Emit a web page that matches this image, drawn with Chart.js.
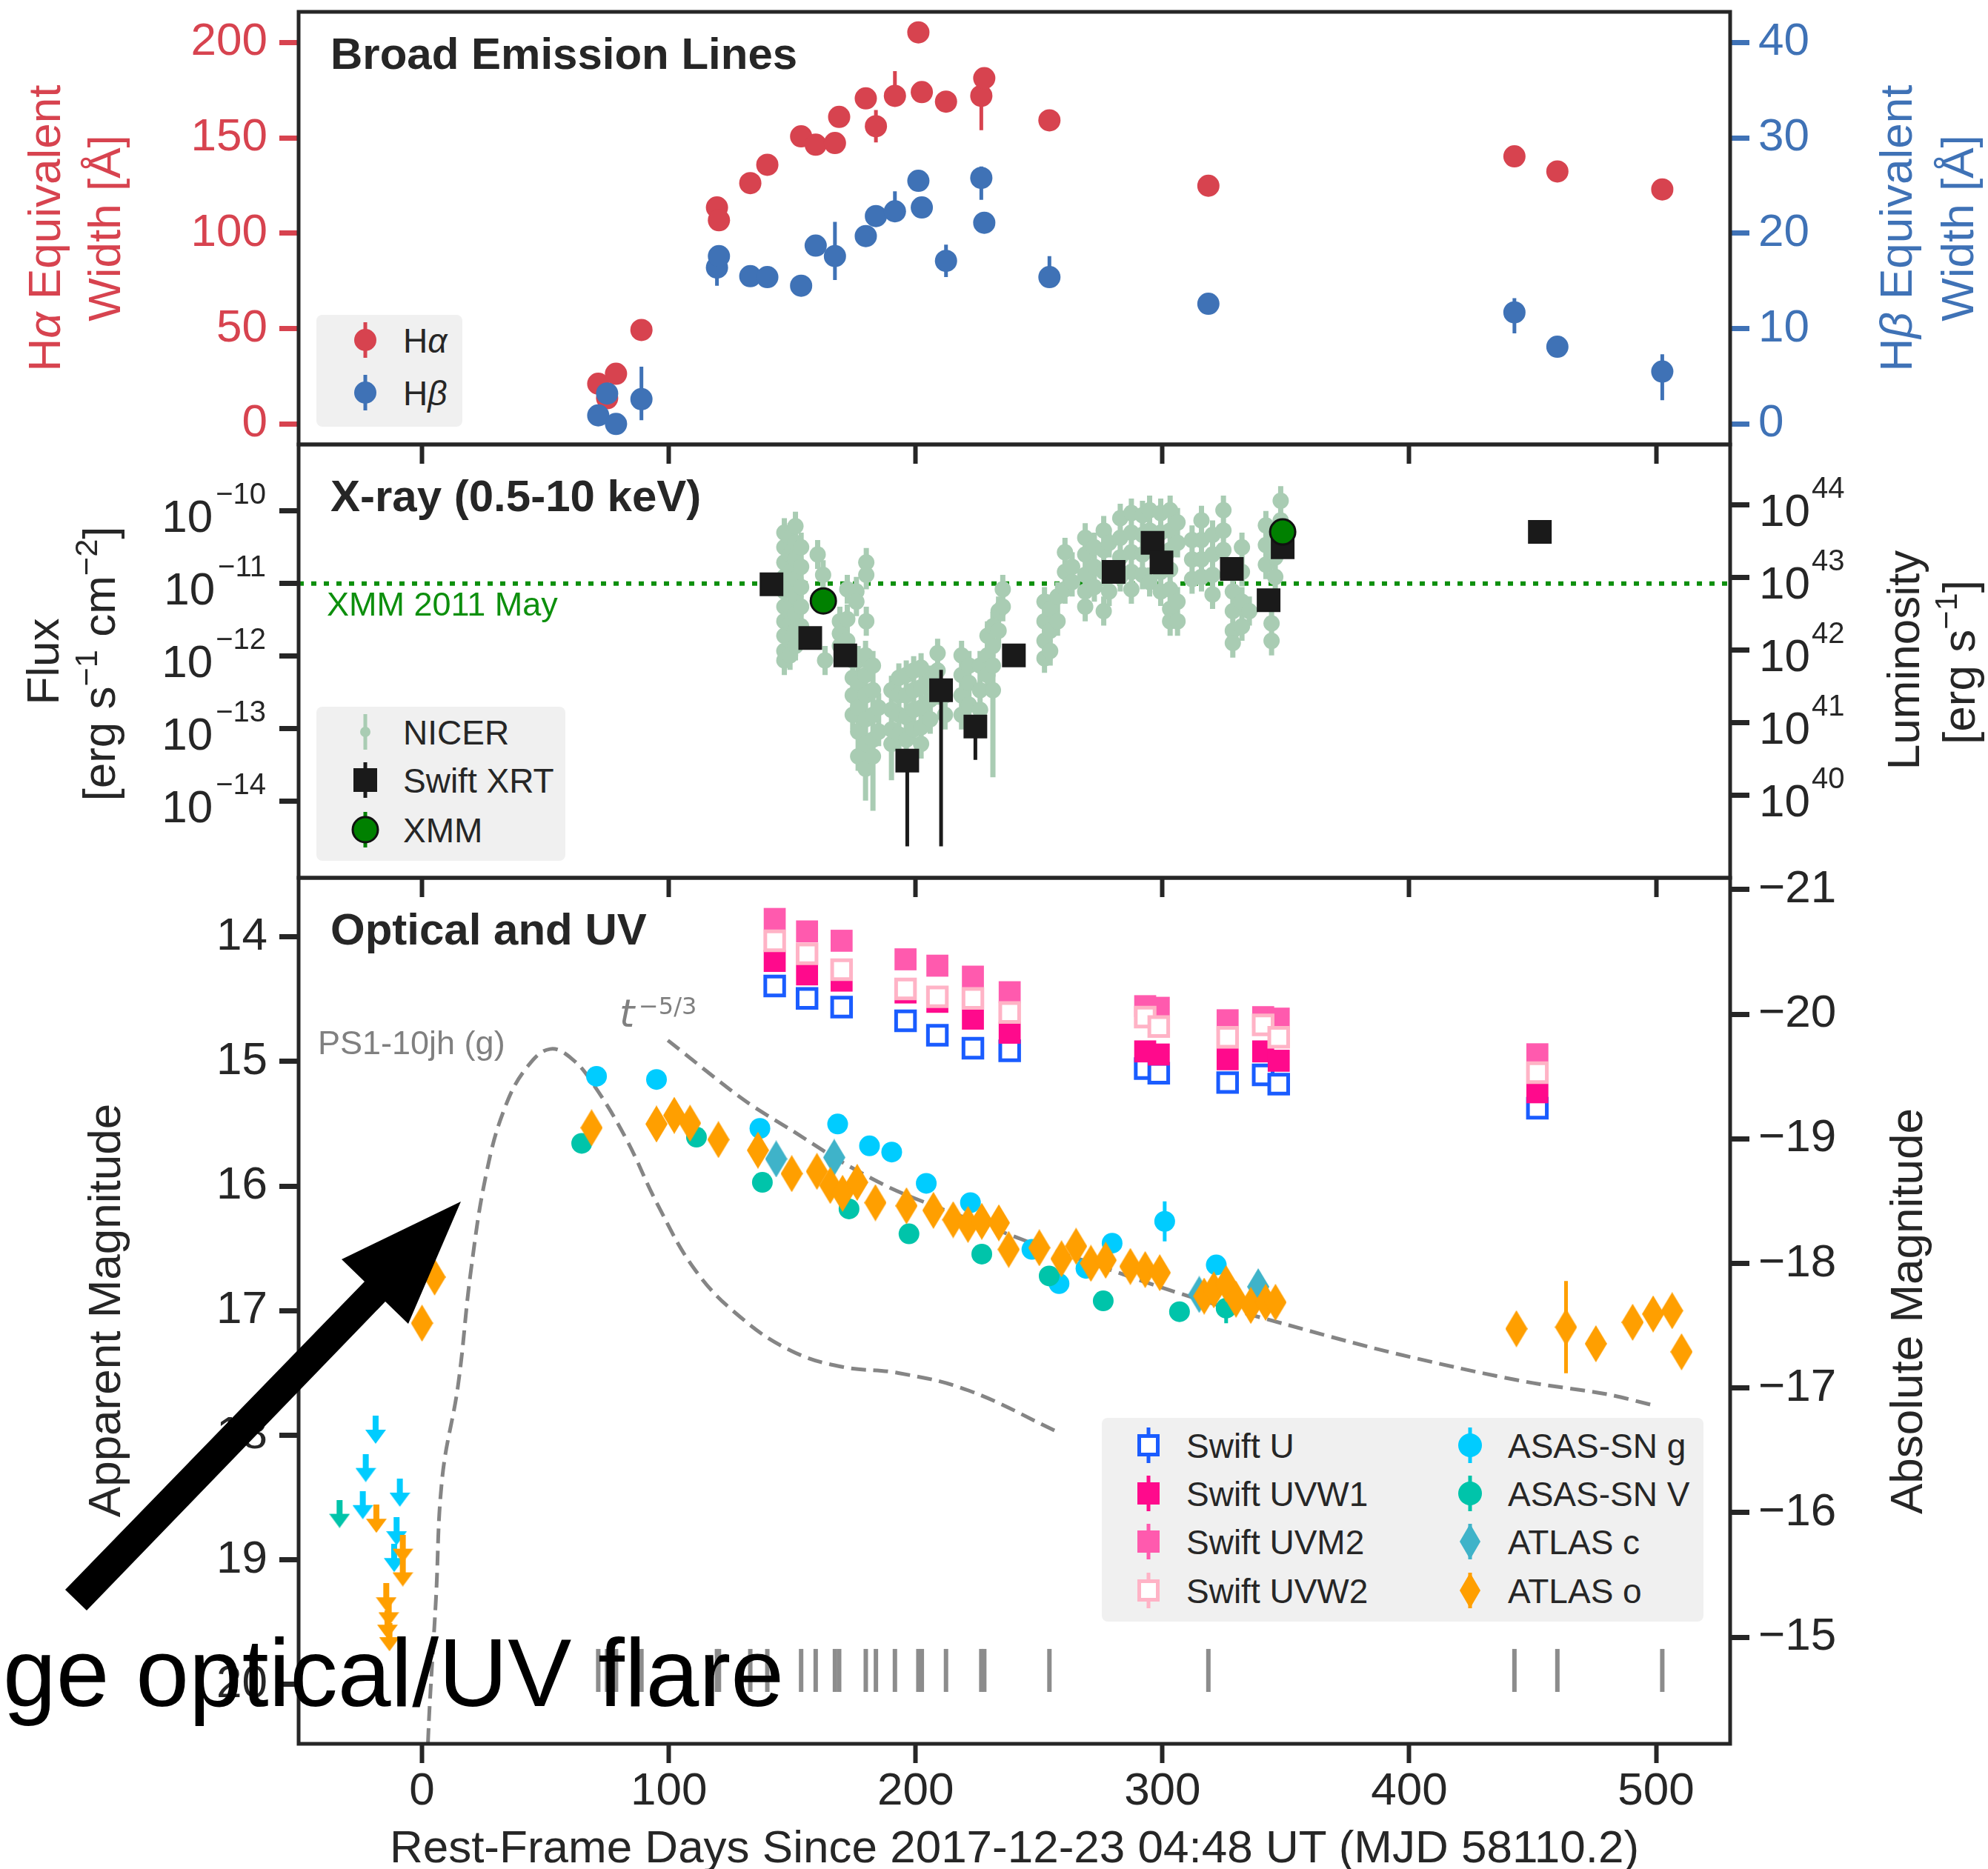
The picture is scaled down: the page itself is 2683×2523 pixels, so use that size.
<!DOCTYPE html>
<html>
<head>
<meta charset="utf-8">
<title>Broad lines, X-ray and optical/UV light curves</title>
<script src="https://cdn.jsdelivr.net/npm/chart.js@4.4.1/dist/chart.umd.min.js"></script>
<style>
  html, body { margin: 0; padding: 0; background: #fff; }
  #fig { position: relative; width: 2683px; height: 2523px; overflow: hidden; background: #fff;
         font-family: "Liberation Sans", Arial, Helvetica, sans-serif; color: #262626; }
  #fig canvas { position: absolute; left: 0; top: 0; }
  .t { position: absolute; white-space: nowrap; }
  .legend { position: absolute; background: #f0f0f0; border-radius: 8px; }
  .t sup { font-size: 70%; vertical-align: 0; position: relative; top: -0.55em; }
</style>
</head>
<body>
<div id="fig">
  <canvas id="cEW" width="2683" height="2523"></canvas>
  <canvas id="cX" width="2683" height="2523"></canvas>
  <canvas id="cOpt" width="2683" height="2523"></canvas>
</div>
<script>
// ---------- ticks ----------
const dayTicks = [0, 100, 200, 300, 400, 500];
const haTicks = [0, 50, 100, 150, 200];
const hbTicks = [0, 10, 20, 30, 40];
const fluxExp = [-14, -13, -12, -11, -10];
const lumExp = [40, 41, 42, 43, 44];
const appTicks = [14, 15, 16, 17, 18, 19, 20];
const absTicks = [-21, -20, -19, -18, -17, -16, -15];

// axis limits
const DAY_MIN = -50, DAY_MAX = 530;
const HA_MIN = -10.74, HA_MAX = 216.06;   // H-beta axis is H-alpha / 5
const LOGF_MIN = -15.054, LOGF_MAX = -9.085;
const LUM_OFFSET = 53.92;                 // log L - log F
const MAG_MIN = 13.526, MAG_MAX = 20.476;
const DIST_MOD = 34.62;

// ---------- broad emission lines ----------
const specDays = [71.4, 75.0, 78.6, 88.9, 119.5, 120.3, 133.0, 139.9, 153.6, 159.5, 167.3, 169.0, 179.8,
                  183.9, 191.6, 201.1, 202.5, 212.3, 226.6, 227.8, 254.2, 318.6, 442.6, 460.0, 502.5];
const haEW = [21.1, 13.5, 26.3, 49.3, 113.5, 106.8, 126.3, 135.9, 150.8, 146.4, 147.3, 161.0, 170.7,
              156.1, 172.0, 205.3, 174.0, 169.0, 172.0, 181.3, 159.2, 124.9, 140.3, 132.4, 123.0];
const haErrLo = [2, 2, 2, 2, 2, 2, 2, 2, 2, 2, 2, 2, 2, 8.5, 2, 2, 2, 2, 18, 2, 2, 2, 2, 2, 2];
const haErrHi = [2, 2, 2, 2, 2, 2, 2, 2, 2, 2, 2, 2, 2, 8.5, 13, 2, 2, 2, 2, 2, 2, 2, 2, 2, 2];
const hbEW = [0.9, 3.2, 0.0, 2.6, 16.4, 17.6, 15.5, 15.4, 14.5, 18.7, 17.6, null, 19.7,
              21.8, 22.3, 25.5, 22.7, 17.1, 25.8, 21.1, 15.4, 12.6, 11.7, 8.1, 5.5];
const hbErrLo = [0.4, 0.4, 0.4, 2.2, 1.9, 0.4, 0.4, 0.4, 0.4, 0.4, 2.5, 0, 0.4,
                 0.4, 0.4, 0.4, 0.4, 1.7, 2.3, 0.4, 0.5, 0.7, 2.2, 0.4, 3.0];
const hbErrHi = [0.4, 0.4, 0.4, 3.4, 0.4, 0.4, 0.4, 0.4, 0.4, 0.4, 3.6, 0, 0.4,
                 0.4, 2.1, 0.4, 0.4, 1.7, 1.2, 0.4, 2.2, 0.7, 1.5, 0.4, 1.8];

// ---------- X-ray (log10 flux, erg/s/cm2) ----------
const xrtDay = [141.6, 157.3, 171.5, 196.6, 210.3, 224.2, 239.8, 280.2, 296.0, 299.6, 328.1, 343.0, 348.7, 452.9];
const xrtLogF = [-11.01, -11.75, -11.99, -13.44, -12.47, -12.97, -11.99, -10.84, -10.44, -10.71, -10.80, -11.23, -10.50, -10.29];
const xrtErrLo = [0.05, 0.05, 0.05, 1.18, 2.15, 0.46, 0.05, 0.05, 0.05, 0.05, 0.05, 0.05, 0.05, 0.05];
const xrtErrHi = [0.05, 0.05, 0.05, 0.05, 0.28, 0.05, 0.05, 0.05, 0.05, 0.05, 0.05, 0.05, 0.05, 0.05];
const xmmDay = [162.6, 348.7];
const xmmLogF = [-11.24, -10.29];
const xmm2011LogF = -11.0;
// NICER: [day, log10 flux, optional long error]
const nicer = [
  [146.8,-10.30],[146.8,-10.50],[146.8,-10.71],[146.8,-10.91],[146.8,-11.11],[146.8,-11.32],[146.8,-11.52],[146.8,-11.72],[146.8,-11.93],[146.8,-12.06],
  [149.1,-10.37],[149.1,-10.60],[149.1,-10.84],[149.1,-11.08],[149.1,-11.32],[149.1,-11.55],[149.1,-11.79],[149.1,-11.99],
  [151.3,-10.21],[151.3,-10.44],[151.3,-10.67],[151.3,-10.94],[151.3,-11.18],[151.3,-11.42],[151.3,-11.65],[151.3,-11.86],
  [153.6,-10.50],[153.6,-10.77],[153.6,-11.05],[153.6,-11.32],[153.6,-11.59],
  [160.3,-10.60],[162.5,-10.88],[163.3,-12.06],
  [169.3,-11.52],[169.3,-11.69],[169.3,-11.86],
  [172.3,-11.08],[172.3,-11.49],[172.3,-11.79],
  [176.0,-11.11],[176.0,-11.25],
  [180.0,-10.71],[180.0,-10.88],[180.0,-11.52],
  [174.5,-12.06],[174.5,-12.30],[174.5,-12.54],[174.5,-12.81],
  [176.7,-12.06],[176.7,-12.37],[176.7,-12.71],[176.7,-13.04],[176.7,-13.38],
  [179.7,-11.99],[179.7,-12.26],[179.7,-12.54],[179.7,-12.87],[179.7,-13.21],[179.7,-13.55,0.44],
  [182.7,-12.13],[182.7,-12.47],[182.7,-12.81],[182.7,-13.15],[182.7,-13.38,0.75],
  [185.0,-12.71],[185.0,-13.04],
  [190.2,-12.47],[190.2,-12.74],[190.2,-13.01],[190.2,-13.21,0.5],
  [193.2,-12.30],[193.2,-12.54],[193.2,-12.81],[193.2,-13.08],
  [196.2,-12.26],[196.2,-12.54],[196.2,-12.84],[196.2,-13.15],
  [199.2,-12.20],[199.2,-12.47],[199.2,-12.74],[199.2,-13.01],
  [202.2,-12.16],[202.2,-12.43],[202.2,-12.71],[202.2,-12.98],[202.2,-13.21],
  [205.9,-12.33],[205.9,-12.60],[205.9,-12.87],
  [208.9,-11.96],[208.9,-12.20],[208.9,-12.47],
  [211.9,-12.54],[211.9,-12.81],
  [218.6,-11.99],[218.6,-12.26],[218.6,-12.54],[218.6,-12.81],
  [221.6,-12.13],[221.6,-12.37],[221.6,-12.67],
  [226.1,-12.13],[226.1,-12.47],[226.1,-12.74],
  [229.1,-11.72],[229.1,-11.99],[229.1,-12.26],
  [231.3,-11.59],[231.3,-11.86],[231.3,-12.13],[231.3,-12.47,1.2],
  [233.6,-11.38],[233.6,-11.65],
  [235.3,-11.08],[235.3,-11.32],
  [252.2,-11.25],[252.2,-11.52],[252.2,-11.79],[252.2,-12.03],
  [254.5,-11.35],[254.5,-11.65],[254.5,-11.93],
  [257.5,-11.18],[257.5,-11.52],
  [260.5,-10.57],[260.5,-10.84],[260.5,-11.08],
  [263.4,-10.77],[263.4,-10.98],
  [268.7,-10.37],[268.7,-10.60],[268.7,-10.88],[268.7,-11.11],[268.7,-11.32],
  [272.4,-10.50],[272.4,-10.77],[272.4,-11.05],
  [276.2,-10.27],[276.2,-10.54],[276.2,-10.84],[276.2,-11.38],
  [278.4,-10.44],[278.4,-11.11],
  [282.9,-10.10],[282.9,-10.37],[282.9,-10.64],[282.9,-10.91],
  [287.4,-10.03],[287.4,-10.30],[287.4,-10.57],[287.4,-10.84],[287.4,-11.08],
  [291.9,-10.06],[291.9,-10.33],[291.9,-10.60],[291.9,-10.88],
  [294.8,-9.99],[294.8,-10.27],[294.8,-10.98],
  [299.3,-10.03],[299.3,-10.30],[299.3,-10.57],[299.3,-10.84],[299.3,-11.11],
  [303.1,-9.99],[303.1,-10.27],[303.1,-10.54],[303.1,-10.81],[303.1,-11.08],[303.1,-11.35],[303.1,-11.52],
  [306.1,-10.16],[306.1,-10.44],[306.1,-11.25],[306.1,-11.52],
  [312.0,-10.40],[312.0,-10.67],[312.0,-10.94],
  [315.8,-10.13],[315.8,-10.40],[315.8,-10.67],[315.8,-10.91],
  [320.3,-10.33],[320.3,-10.60],[320.3,-10.88],[320.3,-11.15],
  [324.7,-9.99],[324.7,-10.27],[324.7,-10.54],
  [328.5,-11.11],[328.5,-11.38],[328.5,-11.65],[328.5,-11.82],
  [332.2,-10.50],[332.2,-10.84],[332.2,-11.25],[332.2,-11.59],
  [335.2,-11.38],
  [341.9,-10.20],[341.9,-10.47],[341.9,-10.74],
  [345.7,-10.37],[345.7,-10.64],[345.7,-10.91],
  [347.9,-9.86],[347.9,-10.13],
  [344.2,-11.55],[344.2,-11.79]
];
const NICER_ERR = 0.2;

// ---------- optical / UV (apparent mag) ----------
const swiftDay = [142.9, 156.0, 170.0, 195.9, 208.8, 223.2, 238.1, 293.0, 298.5, 326.4, 340.8, 347.1, 451.9];
const swiftU    = [14.394, 14.494, 14.564, 14.674, 14.789, 14.894, 14.914, 15.057, 15.094, 15.169, 15.107, 15.182, 15.375];
const swiftUVW1 = [14.193, 14.301, 14.351, 14.446, 14.521, 14.656, 14.769, 14.919, 14.944, 14.982, 14.919, 14.994, 15.247];
const swiftUVM2 = [13.856, 13.956, 14.031, 14.180, 14.231, 14.319, 14.444, 14.556, 14.569, 14.669, 14.644, 14.656, 14.942];
const swiftUVW2 = [14.031, 14.136, 14.263, 14.418, 14.481, 14.494, 14.606, 14.644, 14.719, 14.806, 14.706, 14.806, 15.089];

const gDay = [70.7, 95.0, 136.9, 168.4, 181.3, 190.3, 204.3, 222.2, 247.1, 258.1, 269.0, 279.6, 300.9, 321.8];
const gMag = [15.119, 15.144, 15.537, 15.502, 15.677, 15.727, 15.978, 16.133, 16.508, 16.783, 16.66, 16.458, 16.283, 16.633];
const gErr = [0.03, 0.03, 0.03, 0.03, 0.03, 0.03, 0.03, 0.03, 0.03, 0.03, 0.08, 0.03, 0.16, 0.03];
const gLimDay = [-18.8, -22.8, -9.0, -24.0, -10.3, -11.3];
const gLimMag = [17.955, 18.262, 18.46, 18.56, 18.77, 18.985];

const vDay = [64.7, 111.2, 137.9, 173.0, 197.3, 226.8, 254.1, 276.0, 306.9, 325.8];
const vMag = [15.657, 15.607, 15.97, 16.183, 16.383, 16.546, 16.721, 16.921, 17.008, 16.98];
const vErr = [0.03, 0.03, 0.03, 0.03, 0.03, 0.03, 0.03, 0.03, 0.05, 0.12];
const vLimDay = [-33.4];
const vLimMag = [18.63];

const cDay = [143.5, 167.0, 314.9, 338.8];
const cMag = [15.782, 15.77, 16.87, 16.808];

const oDay = [0.0, 5.1, 68.7, 95.0, 102.2, 108.6, 120.1, 136.1, 149.8, 160.0, 165.4, 170.4, 176.3, 183.7, 196.3,
              207.2, 215.2, 221.2, 226.8, 233.7, 237.7, 250.1, 259.1, 265.0, 271.0, 277.0, 287.0, 293.0, 298.9,
              316.9, 320.8, 325.8, 329.8, 335.8, 341.8, 345.8, 443.4, 463.5, 475.6, 490.5, 498.8, 506.5, 510.3];
const oMag = [17.10, 16.73, 15.532, 15.502, 15.432, 15.495, 15.627, 15.712, 15.90, 15.882, 15.995, 16.058, 15.97, 16.133, 16.158,
              16.195, 16.27, 16.308, 16.283, 16.295, 16.508, 16.495, 16.583, 16.483, 16.62, 16.595, 16.645, 16.67, 16.695,
              16.883, 16.833, 16.783, 16.908, 16.958, 16.933, 16.933, 17.145, 17.132, 17.265, 17.093, 17.026, 17.00, 17.33];
const oErrBig = { 463.5: 0.37 };
const oLimDay = [-18.5, -7.8, -7.8, -14.5, -13.5, -14.0, -13.2];
const oLimMag = [18.67, 18.91, 19.10, 19.30, 19.42, 19.52, 19.62];

// comparison curves
const ps1Day = [2.4, 3.1, 5.6, 8.2, 14.6, 19.8, 26.2, 33.9, 42.9, 51.9, 60.8, 69.8, 82.7, 95.5, 110.9, 128.9, 149.4, 170.0, 193.0, 221.4, 257.7];
const ps1Mag = [20.47, 20.17, 19.33, 18.34, 17.60, 16.68, 15.885, 15.354, 15.036, 14.90, 14.98, 15.194, 15.62, 16.15, 16.68, 17.05, 17.32, 17.45, 17.50, 17.64, 17.975];
const t53Day = [99.6, 130.5, 150.4, 170.4, 190.3, 210.2, 230.2, 250.1, 270.0, 290.0, 310.0, 330.0, 350.0, 385.5, 420.0, 450.0, 480.0, 499.0];
const t53Mag = [14.83, 15.31, 15.56, 15.81, 16.02, 16.18, 16.33, 16.48, 16.61, 16.75, 16.88, 17.00, 17.11, 17.30, 17.46, 17.58, 17.67, 17.76];
const specMarkMag = 19.887;

// ---------- styling ----------
const FONT = '"Liberation Sans", Arial, Helvetica, sans-serif';
const INK = '#262626';
const RED = '#d7434f', BLUE = '#3f72b6';
const W = 2683, H = 2523;
const PLOT_L = 403, PLOT_R = 2335;
const TICK = 26;

const C = {
  nicer: '#a9ccb3', xrt: '#1a1a1a', xmm: '#008000', xmmLine: '#0d8f0d',
  U: '#1a5cff', UVW1: '#ff0a8c', UVM2: '#ff5aae', UVW2: '#ffb3c6',
  g: '#00ccff', V: '#00c4aa', c: '#3fb3c9', o: '#ff9f00', curve: '#858585', spec: '#8c8c8c'
};

function makeDiamond(color, w, h) {
  const cv = document.createElement('canvas');
  cv.width = w; cv.height = h;
  const x = cv.getContext('2d');
  x.fillStyle = color;
  x.beginPath(); x.moveTo(w / 2, 0); x.lineTo(w, h / 2); x.lineTo(w / 2, h); x.lineTo(0, h / 2); x.closePath(); x.fill();
  return cv;
}
function makeArrow(color) {
  const cv = document.createElement('canvas');
  cv.width = 28; cv.height = 38;
  const x = cv.getContext('2d');
  x.fillStyle = color;
  x.fillRect(10, 0, 8, 22);
  x.beginPath(); x.moveTo(0, 19); x.lineTo(28, 19); x.lineTo(14, 38); x.closePath(); x.fill();
  return cv;
}

// ---------- plugins ----------
const errorBarPlugin = {
  id: 'errorBars',
  beforeDatasetDraw(chart, args) {
    const ds = chart.data.datasets[args.index];
    if (!ds.errorBars) return;
    const ys = chart.scales[ds.yAxisID || 'y'], xs = chart.scales.x;
    const a = chart.chartArea, ctx = chart.ctx;
    ctx.save();
    ctx.beginPath(); ctx.rect(a.left, a.top, a.right - a.left, a.bottom - a.top); ctx.clip();
    ctx.strokeStyle = ds.errorBars.color; ctx.lineWidth = ds.errorBars.width;
    ctx.beginPath();
    ds.data.forEach(p => {
      if (p.lo == null) return;
      const px = xs.getPixelForValue(p.x);
      ctx.moveTo(px, ys.getPixelForValue(p.y - p.lo));
      ctx.lineTo(px, ys.getPixelForValue(p.y + p.hi));
    });
    ctx.stroke();
    ctx.restore();
  }
};
const framePlugin = {
  id: 'frame',
  afterDraw(chart) {
    const a = chart.chartArea, ctx = chart.ctx;
    ctx.save(); ctx.strokeStyle = INK; ctx.lineWidth = 5;
    ctx.strokeRect(a.left, a.top, a.right - a.left, a.bottom - a.top);
    ctx.restore();
  }
};
// 10^n tick labels with raised exponent
const powerTickPlugin = {
  id: 'powerTicks',
  afterDraw(chart) {
    const ctx = chart.ctx, a = chart.chartArea;
    ctx.save(); ctx.fillStyle = INK; ctx.textBaseline = 'alphabetic';
    fluxExp.forEach(v => {
      const py = chart.scales.y.getPixelForValue(v);
      const exp = '\u2212' + Math.abs(v);
      const right = a.left - TICK - 18;
      ctx.font = '40px ' + FONT; ctx.textAlign = 'right';
      ctx.fillText(exp, right, py - 10);
      const w = ctx.measureText(exp).width;
      ctx.font = '62px ' + FONT;
      ctx.fillText('10', right - w - 4, py + 28);
    });
    lumExp.forEach(v => {
      const py = chart.scales.y2.getPixelForValue(v);
      const left = a.right + TICK + 13;
      ctx.font = '62px ' + FONT; ctx.textAlign = 'left';
      ctx.fillText('10', left, py + 28);
      const w = ctx.measureText('10').width;
      ctx.font = '40px ' + FONT;
      ctx.fillText(String(v), left + w + 2, py - 10);
    });
    ctx.restore();
  }
};

// ---------- axes ----------
function noPad(s) { s.paddingTop = 0; s.paddingBottom = 0; s.paddingLeft = 0; s.paddingRight = 0; }
function xAxis(showLabels, height) {
  return {
    type: 'linear', position: 'bottom', min: DAY_MIN, max: DAY_MAX,
    afterBuildTicks: s => { s.ticks = dayTicks.map(v => ({ value: v })); },
    afterFit: s => { s.height = height; noPad(s); },
    grid: { drawOnChartArea: false, drawTicks: true, tickLength: TICK, tickWidth: 6, tickColor: INK },
    border: { display: false },
    ticks: { display: showLabels, color: INK, font: { family: FONT, size: 62 }, padding: 2, maxRotation: 0, autoSkip: false }
  };
}
function yAxis(position, min, max, tickVals, color, o = {}) {
  return {
    type: 'linear', position, min, max, reverse: !!o.reverse,
    afterBuildTicks: s => { s.ticks = tickVals.map(v => ({ value: v })); },
    afterFit: s => { s.width = position === 'left' ? PLOT_L : W - PLOT_R; noPad(s); },
    grid: { drawOnChartArea: false, drawTicks: true, tickLength: TICK, tickWidth: 7, tickColor: o.tickColor || INK },
    border: { display: false },
    ticks: {
      display: o.labels !== false, color, font: { family: FONT, size: 62 },
      padding: position === 'left' ? 16 : 12,
      callback: o.fmt || (v => String(v))
    }
  };
}
function makeChart(id, padTop, padBottom, scales, datasets, extra = []) {
  return new Chart(document.getElementById(id), {
    type: 'scatter',
    data: { datasets },
    options: {
      responsive: false, animation: false, devicePixelRatio: 1, events: [],
      layout: { padding: { top: padTop, bottom: padBottom, left: 0, right: 0 }, autoPadding: false },
      plugins: { legend: { display: false }, tooltip: { enabled: false } },
      scales
    },
    plugins: [errorBarPlugin, framePlugin, ...extra]
  });
}
function pts(xs, ys, lo, hi) {
  return xs.map((x, i) => ({ x, y: ys[i], lo: lo ? lo[i] : undefined, hi: hi ? hi[i] : undefined }))
           .filter(p => p.y != null);
}

// ---------- panel 1: equivalent widths ----------
makeChart('cEW', 16, H - 600 - TICK, {
  x: xAxis(false, TICK),
  y: yAxis('left', HA_MIN, HA_MAX, haTicks, RED, { tickColor: RED }),
  y2: yAxis('right', HA_MIN / 5, HA_MAX / 5, hbTicks, BLUE, { tickColor: BLUE })
}, [
  { label: 'H\u03b1', data: pts(specDays, haEW, haErrLo, haErrHi), yAxisID: 'y', order: 2,
    pointStyle: 'circle', pointRadius: 15, pointBorderWidth: 0, pointBackgroundColor: RED,
    errorBars: { color: RED, width: 5 } },
  { label: 'H\u03b2', data: pts(specDays, hbEW, hbErrLo, hbErrHi), yAxisID: 'y2', order: 1,
    pointStyle: 'circle', pointRadius: 15, pointBorderWidth: 0, pointBackgroundColor: BLUE,
    errorBars: { color: BLUE, width: 5 } }
]);

// ---------- panel 2: X-ray ----------
makeChart('cX', 600, H - 1185 - TICK, {
  x: xAxis(false, TICK),
  y: yAxis('left', LOGF_MIN, LOGF_MAX, fluxExp, INK, { labels: false }),
  y2: yAxis('right', LOGF_MIN + LUM_OFFSET, LOGF_MAX + LUM_OFFSET, lumExp, INK, { labels: false })
}, [
  { label: 'XMM 2011 May', data: [{ x: DAY_MIN, y: xmm2011LogF }, { x: DAY_MAX, y: xmm2011LogF }], order: 10,
    showLine: true, pointRadius: 0, borderColor: C.xmmLine, borderWidth: 6, borderDash: [7, 10], borderCapStyle: 'butt' },
  { label: 'NICER', data: nicer.map(p => ({ x: p[0], y: p[1], lo: p[2] || NICER_ERR, hi: NICER_ERR })), order: 3,
    pointStyle: 'circle', pointRadius: 11, pointBorderWidth: 0, pointBackgroundColor: C.nicer,
    errorBars: { color: C.nicer, width: 7 } },
  { label: 'Swift XRT', data: pts(xrtDay, xrtLogF, xrtErrLo, xrtErrHi), order: 2,
    pointStyle: 'rect', pointRadius: 22.6, pointBorderWidth: 0, pointBackgroundColor: C.xrt,
    errorBars: { color: C.xrt, width: 5 } },
  { label: 'XMM', data: pts(xmmDay, xmmLogF), order: 1,
    pointStyle: 'circle', pointRadius: 17, pointBorderWidth: 3, pointBorderColor: '#111', pointBackgroundColor: C.xmm }
], [powerTickPlugin]);

// ---------- panel 3: optical and UV ----------
const diamondO = makeDiamond(C.o, 30, 50), diamondC = makeDiamond(C.c, 30, 50);
const optSets = [
  { label: 'PS1-10jh (g)', data: pts(ps1Day, ps1Mag), showLine: true, pointRadius: 0, tension: 0.4,
    borderColor: C.curve, borderWidth: 5, borderDash: [20, 10] },
  { label: 't^-5/3', data: pts(t53Day, t53Mag), showLine: true, pointRadius: 0, tension: 0.3,
    borderColor: C.curve, borderWidth: 5, borderDash: [20, 10] },
  { label: 'spectra', data: specDays.map(d => ({ x: d, y: specMarkMag })),
    pointStyle: 'line', rotation: 90, pointRadius: 29, pointBorderWidth: 6, pointBorderColor: C.spec },
  { label: 'Swift U', data: pts(swiftDay, swiftU), pointStyle: 'rect', pointRadius: 18,
    pointBorderWidth: 5, pointBorderColor: C.U, pointBackgroundColor: '#fff' },
  { label: 'Swift UVW1', data: pts(swiftDay, swiftUVW1), pointStyle: 'rect', pointRadius: 21,
    pointBorderWidth: 0, pointBackgroundColor: C.UVW1 },
  { label: 'Swift UVM2', data: pts(swiftDay, swiftUVM2), pointStyle: 'rect', pointRadius: 21,
    pointBorderWidth: 0, pointBackgroundColor: C.UVM2 },
  { label: 'Swift UVW2', data: pts(swiftDay, swiftUVW2), pointStyle: 'rect', pointRadius: 18,
    pointBorderWidth: 5, pointBorderColor: C.UVW2, pointBackgroundColor: '#fff' },
  { label: 'ASAS-SN g limits', data: pts(gLimDay, gLimMag), pointStyle: makeArrow(C.g), pointRadius: 14 },
  { label: 'ASAS-SN g', data: pts(gDay, gMag, gErr, gErr), pointStyle: 'circle', pointRadius: 14,
    pointBorderWidth: 0, pointBackgroundColor: C.g, errorBars: { color: C.g, width: 5 } },
  { label: 'ASAS-SN V limits', data: pts(vLimDay, vLimMag), pointStyle: makeArrow(C.V), pointRadius: 14 },
  { label: 'ASAS-SN V', data: pts(vDay, vMag, vErr, vErr), pointStyle: 'circle', pointRadius: 14,
    pointBorderWidth: 0, pointBackgroundColor: C.V, errorBars: { color: C.V, width: 5 } },
  { label: 'ATLAS c', data: pts(cDay, cMag), pointStyle: diamondC, pointRadius: 15 },
  { label: 'ATLAS o limits', data: pts(oLimDay, oLimMag), pointStyle: makeArrow(C.o), pointRadius: 14 },
  { label: 'ATLAS o', data: oDay.map((d, i) => ({ x: d, y: oMag[i], lo: oErrBig[d] || 0.03, hi: oErrBig[d] || 0.03 })),
    pointStyle: diamondO, pointRadius: 15, errorBars: { color: C.o, width: 5 } }
];
optSets.forEach((ds, i) => { ds.order = optSets.length - i; });
makeChart('cOpt', 1185, 0, {
  x: xAxis(true, H - 2354),
  y: yAxis('left', MAG_MIN, MAG_MAX, appTicks, INK, { reverse: true }),
  y2: yAxis('right', MAG_MIN - DIST_MOD, MAG_MAX - DIST_MOD, absTicks, INK,
            { reverse: true, fmt: v => '\u2212' + Math.abs(v) })
}, optSets);

// ---------- text and legends ----------
const fig = document.getElementById('fig');
function text(html, x, baseline, size, o = {}) {
  const d = document.createElement('div');
  d.className = 't';
  d.innerHTML = html;
  d.style.fontSize = size + 'px';
  d.style.lineHeight = size + 'px';
  d.style.top = (baseline - 0.8465 * size) + 'px';
  d.style.left = x + 'px';
  if (o.weight) d.style.fontWeight = o.weight;
  if (o.color) d.style.color = o.color;
  if (o.family) d.style.fontFamily = o.family;
  if (o.center) d.style.transform = 'translateX(-50%)';
  fig.appendChild(d);
  return d;
}
function vtext(html, baselineX, cy, size, color) {
  const d = document.createElement('div');
  d.className = 't';
  d.innerHTML = html;
  d.style.fontSize = size + 'px';
  d.style.lineHeight = size + 'px';
  d.style.width = '1000px';
  d.style.textAlign = 'center';
  d.style.left = (baselineX - 0.3465 * size - 500) + 'px';
  d.style.top = (cy - size / 2) + 'px';
  d.style.transform = 'rotate(-90deg)';
  d.style.color = color;
  fig.appendChild(d);
}

text('Broad Emission Lines', 446, 94, 60, { weight: 'bold' });
text('X-ray (0.5-10 keV)', 446, 691, 60, { weight: 'bold' });
text('Optical and UV', 446, 1276, 60, { weight: 'bold' });
text('XMM 2011 May', 441, 831, 45, { color: C.xmmLine });
text('PS1-10jh (g)', 429, 1423, 45, { color: '#808080' });
text('<i>t</i>', 836, 1386, 52, { color: '#808080', family: '"DejaVu Sans", sans-serif' });
text('\u22125/3', 862, 1369, 32, { color: '#808080', family: '"DejaVu Sans", sans-serif' });
text('Rest-Frame Days Since 2017-12-23 04:48 UT (MJD 58110.2)', 1369, 2514, 62, { center: true });

vtext('H<i>\u03b1</i> Equivalent', 81, 308, 62, RED);
vtext('Width [\u00c5]', 162, 308, 62, RED);
vtext('H<i>\u03b2</i> Equivalent', 2580, 308, 62, BLUE);
vtext('Width [\u00c5]', 2663, 308, 62, BLUE);
vtext('Flux', 79, 893, 62, INK);
vtext('[erg s<sup>\u22121</sup> cm<sup>\u22122</sup>]', 158, 893, 62, INK);
vtext('Luminosity', 2590, 891, 62, INK);
vtext('[erg s<sup>\u22121</sup>]', 2668, 891, 62, INK);
vtext('Apparent Magnitude', 162, 1769, 62, INK);
vtext('Absolute Magnitude', 2594, 1770, 62, INK);

function box(x, y, w, h) {
  const d = document.createElement('div');
  d.className = 'legend';
  Object.assign(d.style, { left: x + 'px', top: y + 'px', width: w + 'px', height: h + 'px' });
  fig.appendChild(d);
}
function marker(kind, color, cx, cy, o = {}) {
  const s = 80, c = s / 2, eb = o.eb || 24;
  let body = `<line x1="${c}" y1="${c - eb}" x2="${c}" y2="${c + eb}" stroke="${o.ebColor || color}" stroke-width="5"/>`;
  if (kind === 'circle') {
    body += `<circle cx="${c}" cy="${c}" r="${o.r}" fill="${color}"${o.edge ? ` stroke="${o.edge}" stroke-width="3"` : ''}/>`;
  } else if (kind === 'square') {
    body += `<rect x="${c - o.a / 2}" y="${c - o.a / 2}" width="${o.a}" height="${o.a}" fill="${o.open ? '#fff' : color}"${o.open ? ` stroke="${color}" stroke-width="5"` : ''}/>`;
  } else if (kind === 'diamond') {
    body += `<polygon points="${c},${c - 24} ${c + 14},${c} ${c},${c + 24} ${c - 14},${c}" fill="${color}"/>`;
  }
  const svg = document.createElementNS('http://www.w3.org/2000/svg', 'svg');
  svg.setAttribute('width', s); svg.setAttribute('height', s);
  svg.style.position = 'absolute';
  svg.style.left = (cx - c) + 'px'; svg.style.top = (cy - c) + 'px';
  svg.innerHTML = body;
  fig.appendChild(svg);
}
function entry(kind, color, mx, tx, cy, label, o) {
  marker(kind, color, mx, cy, o);
  text(label, tx, cy + 16.5, 46);
}

box(427, 425, 197, 151);
entry('circle', RED, 493, 544, 459, 'H<i>\u03b1</i>', { r: 15 });
entry('circle', BLUE, 493, 544, 530, 'H<i>\u03b2</i>', { r: 15 });

box(427, 954, 336, 208);
entry('circle', C.nicer, 493, 544, 988, 'NICER', { r: 7 });
entry('square', C.xrt, 493, 544, 1053, 'Swift XRT', { a: 32 });
entry('circle', C.xmm, 493, 544, 1120, 'XMM', { r: 17, edge: '#111' });

box(1487, 1914, 812, 275);
const rows = [1951, 2016, 2081, 2147];
entry('square', C.U, 1550, 1601, rows[0], 'Swift U', { a: 25, open: true });
entry('square', C.UVW1, 1550, 1601, rows[1], 'Swift UVW1', { a: 30 });
entry('square', C.UVM2, 1550, 1601, rows[2], 'Swift UVM2', { a: 30 });
entry('square', C.UVW2, 1550, 1601, rows[3], 'Swift UVW2', { a: 25, open: true });
entry('circle', C.g, 1984, 2035, rows[0], 'ASAS-SN g', { r: 16 });
entry('circle', C.V, 1984, 2035, rows[1], 'ASAS-SN V', { r: 16 });
entry('diamond', C.c, 1984, 2035, rows[2], 'ATLAS c', {});
entry('diamond', C.o, 1984, 2035, rows[3], 'ATLAS o', {});

// ---------- overlaid annotation ----------
const arrow = document.createElementNS('http://www.w3.org/2000/svg', 'svg');
arrow.setAttribute('width', W); arrow.setAttribute('height', H);
arrow.style.position = 'absolute'; arrow.style.left = '0px'; arrow.style.top = '0px';
arrow.innerHTML = '<polygon fill="#000" points="88,2146 492,1730 461,1700 622,1622 551,1787 520,1757 117,2174"/>';
fig.appendChild(arrow);
text('ge optical/UV flare', 4, 2303, 129, { color: '#000' });
</script>
</body>
</html>
